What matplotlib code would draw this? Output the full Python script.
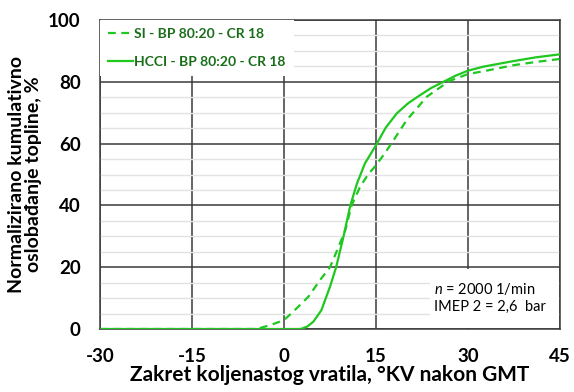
import matplotlib
matplotlib.use('Agg')
import matplotlib.pyplot as plt
from matplotlib.patches import Rectangle
from matplotlib.ticker import MultipleLocator

plt.rcParams['font.family'] = ['Lato', 'DejaVu Sans']
plt.rcParams['mathtext.fontset'] = 'custom'
plt.rcParams['mathtext.rm'] = 'Lato'
plt.rcParams['mathtext.it'] = 'Lato:italic'
plt.rcParams['axes.unicode_minus'] = False

# SI - dashed curve
si_x = [-30, -4.5, -2, 0, 1.5, 4, 5.9, 7.5, 8.9, 10, 11, 12.4, 13.7, 15, 16.3, 17.5,
        20, 23.3, 27, 30, 33, 37.5, 41, 45]
si_y = [0, 0, 1.4, 2.9, 5.6, 10.5, 15.9, 20, 26.6, 32, 39.9, 46, 50, 53, 56.5, 60,
        67.6, 75.2, 80.3, 82.5, 83.6, 85.4, 86.4, 87.4]

# HCCI - solid curve
hcci_x = [-30, 2.7, 3.8, 4.8, 6.1, 7.5, 8.5, 9.7, 10.8, 11.9, 13.2, 15, 16.6, 18.4, 20.2,
          22.2, 24, 26, 28, 30, 32.5, 37.4, 41, 45]
hcci_y = [0, 0, 0.8, 2.4, 6.1, 13.7, 20, 29.9, 39.9, 47.1, 53.6, 59.5, 65.2, 69.8, 73,
          75.7, 78, 80, 82, 83.6, 84.9, 86.7, 87.9, 88.9]

xticks = [-30, -15, 0, 15, 30, 45]
yticks = [0, 20, 40, 60, 80, 100]

green = '#1ec81e'

fig = plt.figure(figsize=(5.74, 3.92), dpi=100)
ax = fig.add_axes([100/574, 1-329/392, 460/574, 309/392])

ax.plot(si_x, si_y, color=green, lw=1.6, ls=(0, (3.5, 2.5)), label='SI - BP 80:20 - CR 18', zorder=5)
ax.plot(hcci_x, hcci_y, color=green, lw=1.6, label='HCCI - BP 80:20 - CR 18', zorder=5)

ax.set_xlim(-30, 45)
ax.set_ylim(0, 100)
ax.set_xticks(xticks)
ax.set_yticks(yticks)
ax.yaxis.set_minor_locator(MultipleLocator(5))
ax.grid(which='major', color='#3a3a3a', lw=1.1)
ax.grid(which='minor', axis='y', color='#e2e2e2', lw=1.0)
ax.set_axisbelow(True)
ax.tick_params(which='both', length=0)
ax.tick_params(labelsize=13.5, pad=14)
for lab in ax.get_xticklabels() + ax.get_yticklabels():
    lab.set_fontweight('bold')
for s in ax.spines.values():
    s.set_color('#3a3a3a')
    s.set_linewidth(1.1)

ax.set_xlabel('Zakret koljenastog vratila, °KV nakon GMT', fontsize=15, fontweight='bold', labelpad=0)
ax.set_ylabel('Normalizirano kumulativno\noslobađanje topline, %', fontsize=14, fontweight='bold',
              labelpad=4, linespacing=1.05)

leg = ax.legend(loc='upper left', frameon=True, fancybox=False, framealpha=1, edgecolor='none',
                facecolor='white', borderaxespad=0, borderpad=0.6, handlelength=1.8,
                handletextpad=0.05, labelspacing=1.1, prop={'size': 10, 'weight': 'bold'})
for t in leg.get_texts():
    t.set_color('#1a6e1a')
leg.set_zorder(4)

ax.add_patch(Rectangle((0.717, 0.003), 0.28, 0.19, transform=ax.transAxes,
                       facecolor='white', edgecolor='none', zorder=3))
ax.text(0.727, 0.128, '$n$ = 2000 1/min', transform=ax.transAxes, fontsize=10.5,
        va='center', zorder=6)
ax.text(0.727, 0.072, 'IMEP 2 = 2,6  bar', transform=ax.transAxes, fontsize=10.5,
        va='center', zorder=6)

fig.savefig('out.png', dpi=100)
